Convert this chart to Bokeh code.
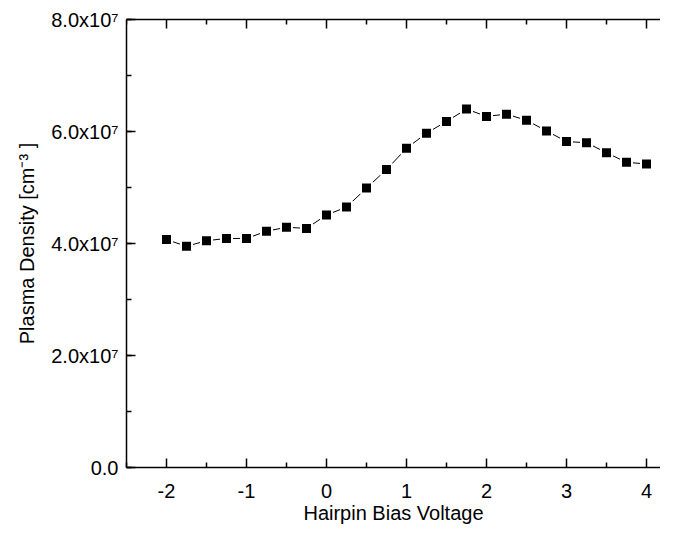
import math
from bokeh.plotting import figure
from bokeh.models import Range1d, LinearAxis, SingleIntervalTicker, FixedTicker, ColumnDataSource
from bokeh.embed import file_html
from bokeh.resources import INLINE

# Data
bias_voltage = [-2.0, -1.75, -1.5, -1.25, -1.0, -0.75, -0.5, -0.25, 0.0, 0.25,
                0.5, 0.75, 1.0, 1.25, 1.5, 1.75, 2.0, 2.25, 2.5, 2.75,
                3.0, 3.25, 3.5, 3.75, 4.0]
plasma_density = [4.07e7, 3.95e7, 4.05e7, 4.09e7, 4.09e7, 4.22e7, 4.29e7, 4.27e7, 4.51e7, 4.65e7,
                  4.99e7, 5.32e7, 5.70e7, 5.97e7, 6.18e7, 6.40e7, 6.27e7, 6.31e7, 6.20e7, 6.01e7,
                  5.82e7, 5.80e7, 5.62e7, 5.45e7, 5.42e7]

x_tick_values = [-2, -1, 0, 1, 2, 3, 4]
x_tick_labels = ["-2", "-1", "0", "1", "2", "3", "4"]
x_minor_values = [-2.5, -1.5, -0.5, 0.5, 1.5, 2.5, 3.5]
y_tick_values = [0, 2e7, 4e7, 6e7, 8e7]
y_tick_labels = ["0.0", "2.0x10\u2077", "4.0x10\u2077", "6.0x10\u2077", "8.0x10\u2077"]

x_title = "Hairpin Bias Voltage"
y_title = "Plasma Density [cm\u207b\u00b3 ]"

X_START, X_END = -2.5, 4.175
Y_START, Y_END = 0, 8e7

FONT = "Liberation Sans"

src = ColumnDataSource(dict(x=bias_voltage, y=plasma_density))

p = figure(width=660, height=526, output_backend="svg", toolbar_location=None,
           x_range=Range1d(X_START, X_END), y_range=Range1d(Y_START, Y_END),
           min_border_left=126, min_border_top=19, min_border_bottom=59, min_border_right=0,
           background_fill_color="white", border_fill_color="white")
p.outline_line_color = None
p.grid.visible = False

def style(ax):
    ax.axis_line_color = "black"
    ax.axis_line_width = 1.5
    ax.major_tick_line_color = "black"
    ax.major_tick_line_width = 1.5
    ax.minor_tick_line_color = "black"
    ax.minor_tick_line_width = 1.5
    ax.major_tick_in = 9
    ax.major_tick_out = 0
    ax.minor_tick_in = 5
    ax.minor_tick_out = 0
    ax.major_label_text_font = FONT
    ax.major_label_text_color = "black"
    ax.axis_label_text_font = FONT
    ax.axis_label_text_font_style = "normal"
    ax.axis_label_text_color = "black"

xa = p.xaxis[0]
xa.ticker = FixedTicker(ticks=x_tick_values, minor_ticks=x_minor_values)
style(xa)
xa.major_label_text_font_size = "20px"
xa.major_label_standoff = 16
xa.major_label_overrides = {v: l for v, l in zip(x_tick_values, x_tick_labels)}
xa.axis_label = x_title
xa.axis_label_text_font_size = "20px"
xa.axis_label_standoff = 1

ya = p.yaxis[0]
ya.ticker = SingleIntervalTicker(interval=2e7, num_minor_ticks=2)
style(ya)
ya.major_label_text_font_size = "20px"
ya.major_label_standoff = 8
ya.major_label_overrides = {v: l for v, l in zip(y_tick_values, y_tick_labels)}
ya.axis_label = y_title
ya.axis_label_text_font_size = "20px"
ya.axis_label_standoff = 10

# top frame line (no labels)
top = LinearAxis(ticker=FixedTicker(ticks=[], minor_ticks=[]))
top.axis_line_color = "black"
top.axis_line_width = 1.5
top.major_label_standoff = 0
top.major_tick_out = 0
top.major_tick_in = 0
p.add_layout(top, "above")

# inward ticks on the top edge
p.ray(x=x_tick_values, y=[Y_END] * len(x_tick_values), length=9, length_units="screen",
      angle=-math.pi / 2, line_color="black", line_width=1.5)
p.ray(x=x_minor_values, y=[Y_END] * len(x_minor_values), length=5, length_units="screen",
      angle=-math.pi / 2, line_color="black", line_width=1.5)

p.line("x", "y", source=src, line_color="black", line_width=1)
p.scatter("x", "y", source=src, marker="square", size=11,
          fill_color="black", line_color="white", line_width=2)

open("out.html", "w").write(file_html(p, INLINE))
